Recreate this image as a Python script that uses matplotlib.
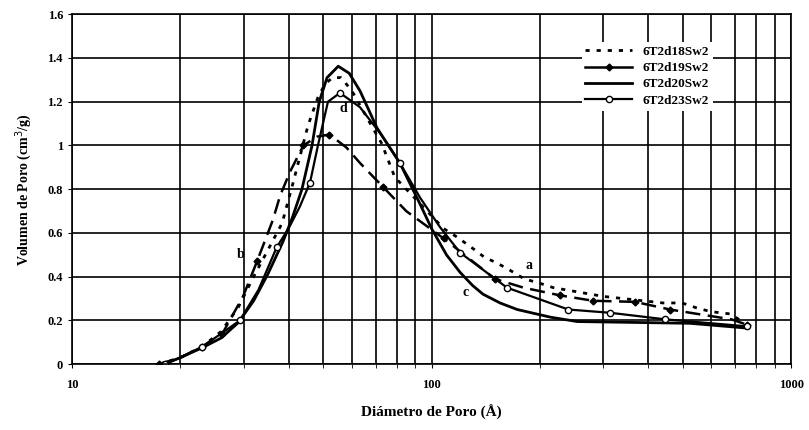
import matplotlib
matplotlib.use("Agg")
import matplotlib.pyplot as plt
from matplotlib.ticker import LogLocator, FixedLocator, NullFormatter
from matplotlib.lines import Line2D

# ---- data ----
x_d18 = [17.5, 20, 23, 26, 29, 32, 35, 38.4, 41.2, 45.3, 48.3, 50.5, 53, 56, 60, 68.6, 72.6, 79, 94.6, 108, 118, 130, 140, 153, 165, 181, 200, 218, 300, 440, 497, 551, 600, 676, 740]
y_d18 = [0.0, 0.03, 0.08, 0.15, 0.26, 0.40, 0.52, 0.645, 0.83, 1.09, 1.22, 1.28, 1.31, 1.31, 1.25, 1.08, 1.01, 0.855, 0.72, 0.62, 0.58, 0.53, 0.49, 0.46, 0.43, 0.39, 0.37, 0.35, 0.31, 0.28, 0.28, 0.255, 0.24, 0.23, 0.19]

x_d19 = [17.4, 20, 23, 26.2, 29.9, 32.7, 36.2, 37.9, 40.4, 44, 48, 52, 58, 63.2, 73.3, 85, 108, 150, 180, 227, 281, 368, 460, 682, 755]
y_d19 = [0.0, 0.03, 0.08, 0.14, 0.31, 0.47, 0.66, 0.77, 0.88, 1.00, 1.04, 1.05, 0.99, 0.92, 0.81, 0.70, 0.575, 0.39, 0.35, 0.315, 0.29, 0.285, 0.25, 0.205, 0.18]
mk_d19 = [0, 2, 3, 5, 9, 11, 14, 16, 17, 19, 20, 21, 22, 24]

x_d20 = [18, 20, 23, 26, 29, 32, 35, 38.6, 41, 43.6, 46.5, 48.7, 51.2, 55, 59, 63.2, 70.5, 81.6, 93, 100, 110, 120, 130, 139, 155, 173, 214, 254, 400, 523, 755]
y_d20 = [0.0, 0.03, 0.075, 0.12, 0.19, 0.29, 0.41, 0.56, 0.67, 0.80, 1.00, 1.20, 1.31, 1.362, 1.33, 1.25, 1.08, 0.92, 0.73, 0.62, 0.50, 0.42, 0.36, 0.32, 0.28, 0.25, 0.215, 0.195, 0.19, 0.187, 0.165]

x_d23 = [18.1, 20, 23, 26, 29.3, 33, 37.1, 40, 43, 45.9, 48.3, 51.5, 55.6, 63.2, 71.9, 81.6, 93, 105.6, 120, 162, 240, 314, 447, 755]
y_d23 = [0.0, 0.03, 0.08, 0.14, 0.20, 0.34, 0.535, 0.62, 0.72, 0.83, 1.00, 1.20, 1.24, 1.175, 1.056, 0.92, 0.76, 0.626, 0.51, 0.35, 0.25, 0.235, 0.205, 0.173]
mk_d23 = [0, 2, 4, 6, 9, 12, 15, 18, 19, 20, 21, 22, 23]

labels = ["6T2d18Sw2", "6T2d19Sw2", "6T2d20Sw2", "6T2d23Sw2"]
tags = ["a", "b", "c", "d"]
tag_x = [187, 29.5, 124, 56.8]
tag_y = [0.45, 0.50, 0.33, 1.17]

plt.rcParams['font.family'] = ['Liberation Serif', 'DejaVu Serif']

fig = plt.figure(figsize=(8.09, 4.30), dpi=100)
ax = fig.add_axes([0.089, 0.153, 0.889, 0.814])

ax.plot(x_d18, y_d18, color='black', lw=2.0, linestyle=(0, (1.5, 2.5)), label=labels[0])
ax.plot(x_d19, y_d19, color='black', lw=1.8, linestyle=(0, (6, 3)), marker='D', markersize=3.5,
        markerfacecolor='black', markevery=mk_d19, label=labels[1])
ax.plot(x_d20, y_d20, color='black', lw=2.0, linestyle='-', label=labels[2])
ax.plot(x_d23, y_d23, color='black', lw=1.6, linestyle='-', marker='o', markersize=4.5,
        markerfacecolor='white', markeredgewidth=1.0, markevery=mk_d23, label=labels[3])

for t, tx, ty in zip(tags, tag_x, tag_y):
    ax.text(tx, ty, t, fontsize=10, fontweight='bold', ha='center', va='center')

ax.set_xscale('log')
ax.set_xlim(10, 1000)
ax.set_ylim(0, 1.6)
ax.set_yticks([0, 0.2, 0.4, 0.6, 0.8, 1.0, 1.2, 1.4, 1.6])
ax.set_yticklabels(['0', '0.2', '0.4', '0.6', '0.8', '1', '1.2', '1.4', '1.6'])
ax.xaxis.set_major_locator(FixedLocator([10, 100, 1000]))
ax.set_xticklabels(['10', '100', '1000'])
ax.xaxis.set_minor_locator(LogLocator(base=10, subs=range(2, 10)))
ax.xaxis.set_minor_formatter(NullFormatter())

ax.grid(True, which='major', color='black', lw=1.2)
ax.grid(True, which='minor', axis='x', color='black', lw=1.2)
ax.set_axisbelow(True)
ax.tick_params(which='both', length=3, direction='out', labelsize=9)
for lab in ax.get_xticklabels() + ax.get_yticklabels():
    lab.set_fontweight('bold')
ax.tick_params(axis='x', pad=8)
for s in ax.spines.values():
    s.set_color('black')
    s.set_linewidth(1.2)

ax.set_xlabel('Diámetro de Poro (Å)', fontsize=11, fontweight='bold', labelpad=10)
ax.set_ylabel('Volumen de Poro (cm$^3$/g)', fontsize=10, fontweight='bold', labelpad=10)

handles = [
    Line2D([], [], color='black', lw=2.0, linestyle=(0, (1.5, 2.5))),
    Line2D([], [], color='black', lw=1.8, marker='D', markersize=3.5, markerfacecolor='black'),
    Line2D([], [], color='black', lw=2.0),
    Line2D([], [], color='black', lw=1.6, marker='o', markersize=4.5, markerfacecolor='white'),
]
leg = ax.legend(handles, labels, loc='upper right', bbox_to_anchor=(0.90, 0.94), frameon=True,
                fancybox=False, edgecolor='none', facecolor='white', framealpha=1,
                prop={'weight': 'bold', 'size': 9.5}, handlelength=3.5, labelspacing=0.3,
                borderpad=0.3)

fig.savefig('out.png', dpi=100)
